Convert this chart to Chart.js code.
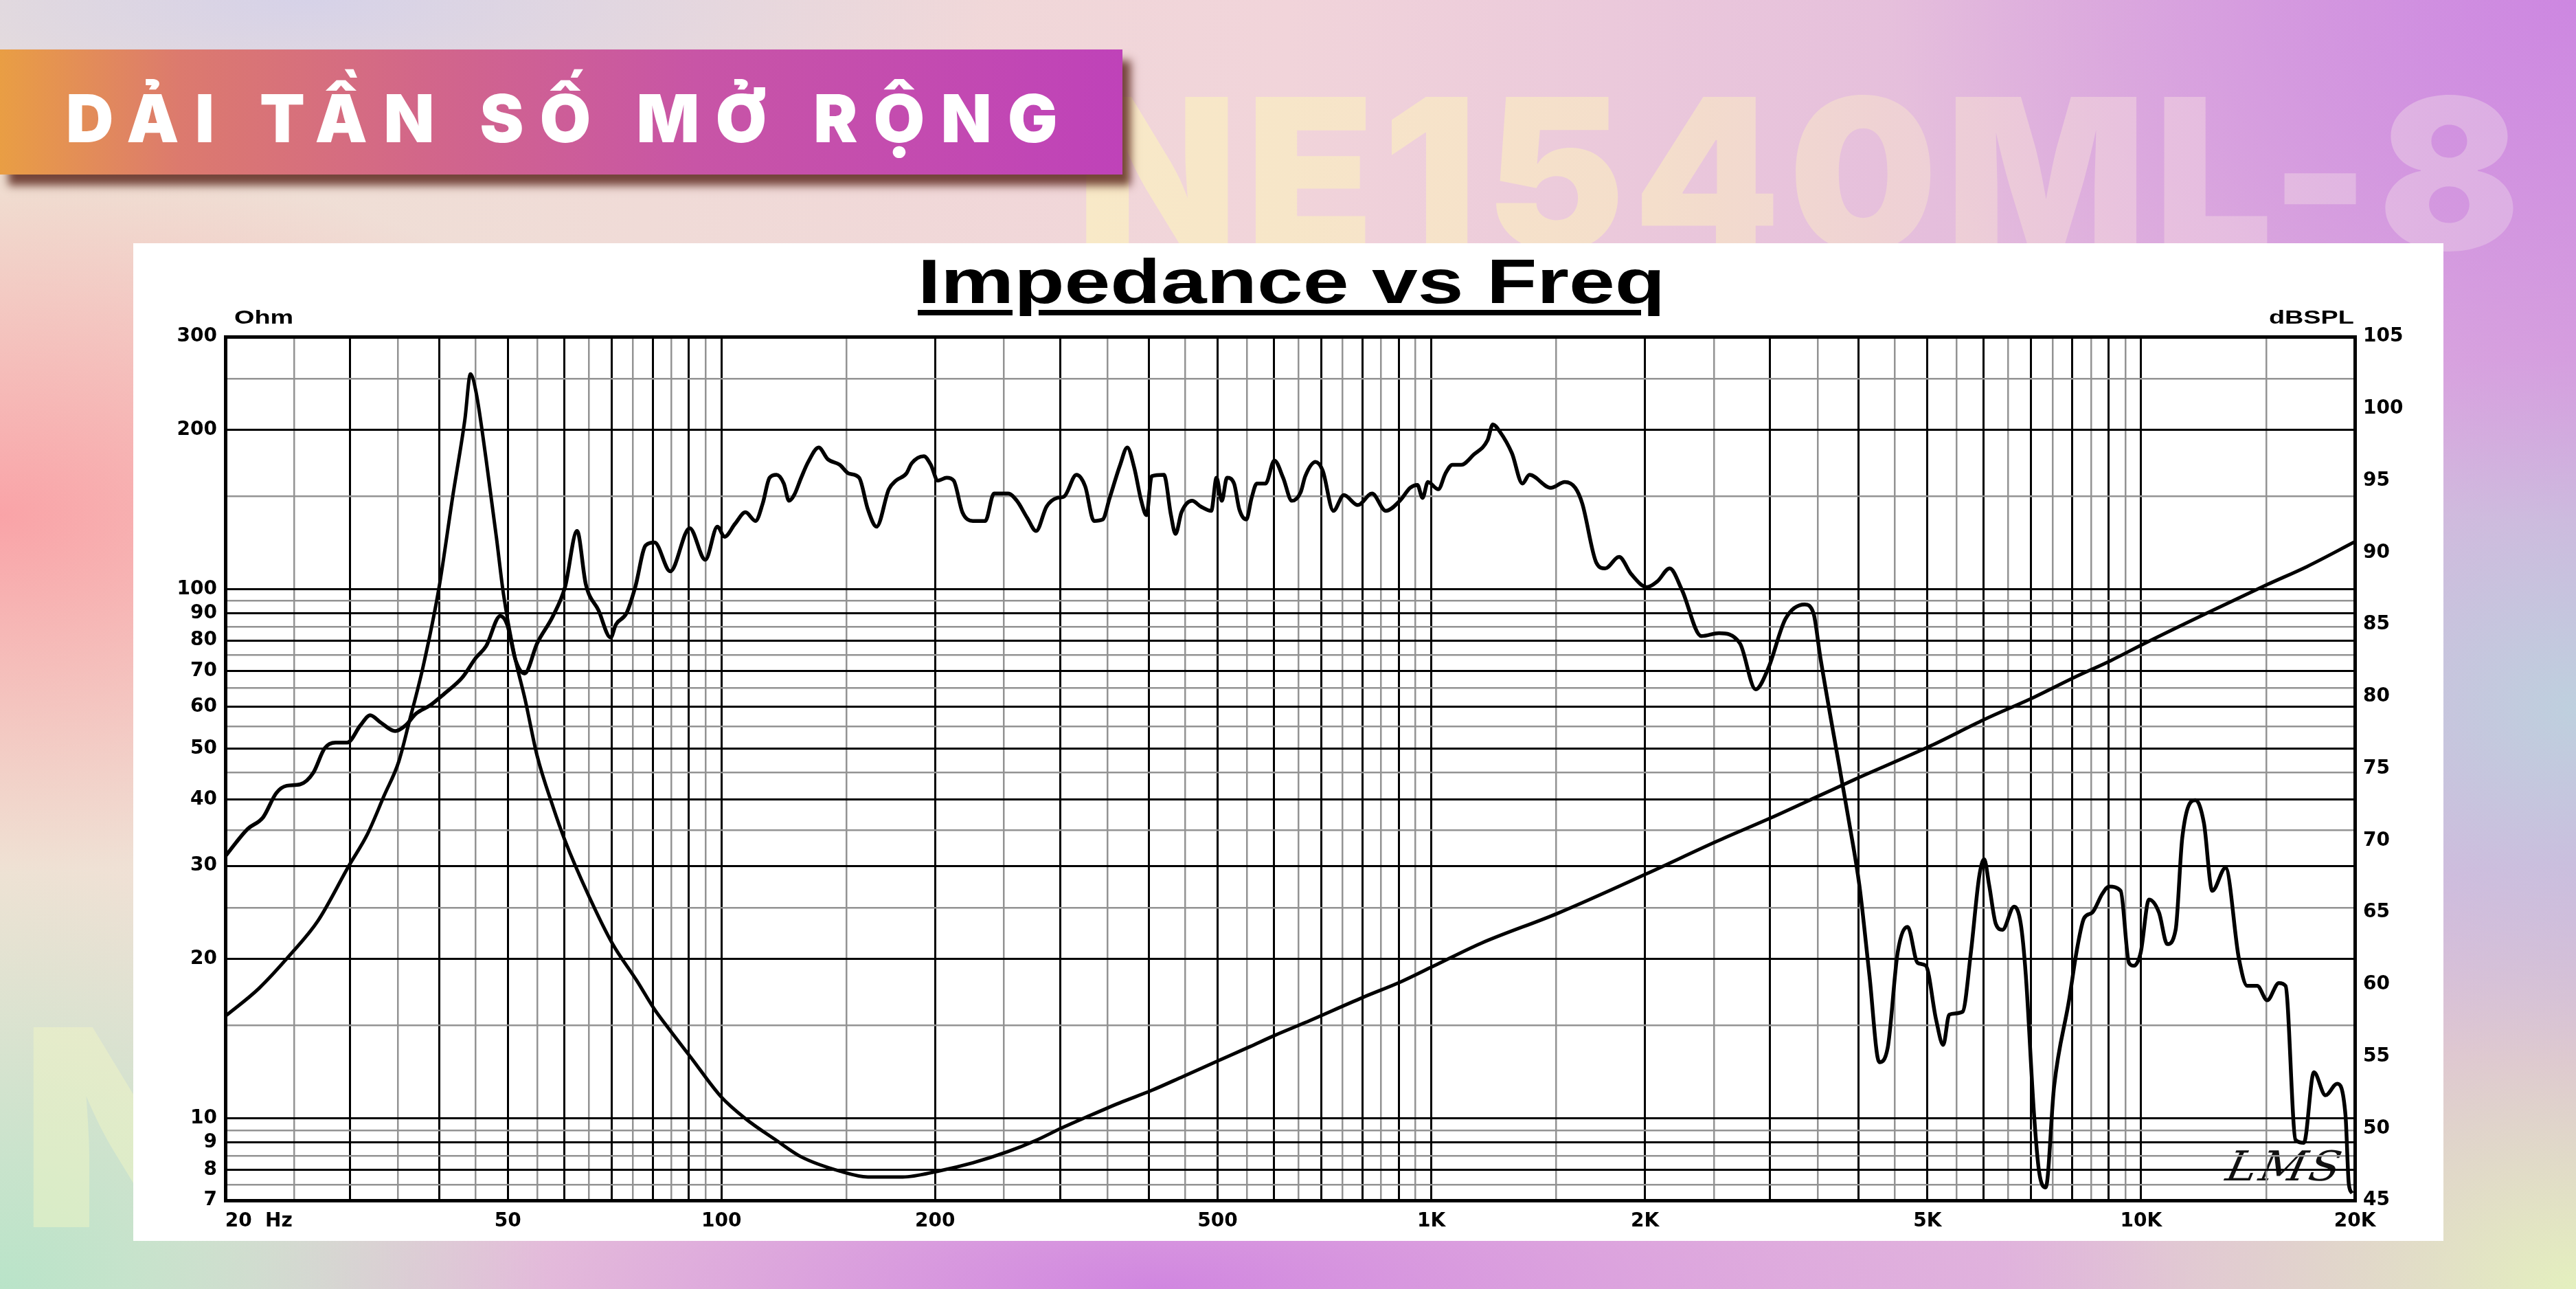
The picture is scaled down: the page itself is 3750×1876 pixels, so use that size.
<!DOCTYPE html>
<html>
<head>
<meta charset="utf-8">
<script src="https://cdn.jsdelivr.net/npm/chart.js@4.4.1/dist/chart.umd.min.js"></script>
<style>
  html, body { margin: 0; padding: 0; }
  body {
    width: 3750px; height: 1876px; overflow: hidden; position: relative;
    background:
      radial-gradient(ellipse 1000px 520px at 0% 40%, rgba(250,160,165,0.95), rgba(250,160,165,0) 100%),
      radial-gradient(ellipse 800px 620px at 0% 100%, rgba(182,228,200,0.95), rgba(182,228,200,0) 100%),
      radial-gradient(ellipse 1500px 420px at 45% 100%, rgba(205,125,225,0.9), rgba(205,125,225,0) 100%),
      radial-gradient(ellipse 1000px 760px at 100% 0%, rgba(205,135,225,1), rgba(205,135,225,0) 100%),
      radial-gradient(ellipse 650px 520px at 100% 55%, rgba(190,208,222,1), rgba(190,208,222,0) 100%),
      radial-gradient(ellipse 850px 620px at 100% 100%, rgba(228,240,190,1), rgba(228,240,190,0) 100%),
      radial-gradient(ellipse 1000px 260px at 12% 0%, rgba(214,210,232,1), rgba(214,210,232,0) 100%),
      linear-gradient(90deg, #efe2d4 0%, #f1d4da 50%, #d9a8de 100%);
  }
  .wm {
    position: absolute; font-family: Inter, "DejaVu Sans", sans-serif; font-weight: 900;
    line-height: 1; white-space: nowrap;
  }
  #wmTop {
    left: 1567px; top: 100px; font-size: 305px; letter-spacing: 12px; opacity: 0.75;
    background: linear-gradient(90deg, #fbf0c2 0%, #f8e6c6 40%, #ecc8e0 75%, #e0b8e6 100%);
    -webkit-background-clip: text; background-clip: text; color: transparent;
  }
  #wmBottom { left: 30px; top: 1440px; font-size: 400px; letter-spacing: 20px; opacity: 0.45; color: #f4f7c4; }
  #banner {
    position: absolute; left: 0; top: 72px; width: 1634px; height: 182px;
    background: linear-gradient(90deg, #e99e44 0%, #dc7a6e 16%, #d2668a 38%, #c855a6 62%, #bf42b9 100%);
    box-shadow: 12px 16px 12px rgba(85,30,20,0.8);
  }
  #banner span {
    position: absolute; left: 96px; top: 52px; color: #fff;
    font-family: Inter, "DejaVu Sans", sans-serif; font-weight: 900; font-size: 96px;
    letter-spacing: 23.5px; line-height: 1; white-space: nowrap;
  }
  #panel {
    position: absolute; left: 194px; top: 354px; width: 3363px; height: 1452px; background: #fff;
  }
  .stretch {
    position: absolute; font-family: "Liberation Sans", Arial, sans-serif; color: #000;
    line-height: 1; white-space: nowrap; transform: scaleX(1.32);
  }
  #title {
    left: 1336px; top: 364px; font-size: 91px; font-weight: bold; transform-origin: 0 0;
    text-decoration: underline; text-decoration-thickness: 8px; text-underline-offset: 10px;
  }
  #ohm { left: 341px; top: 448px; font-size: 28px; font-weight: bold; transform-origin: 0 0; transform: scaleX(1.35); }
  #dbspl { right: 323px; top: 448px; font-size: 28px; font-weight: bold; transform-origin: 100% 0; transform: scaleX(1.35); }
  #sig {
    position: absolute; left: 3250px; top: 1662px; font-family: "DejaVu Serif", serif;
    font-style: italic; font-size: 60px; color: #111; transform: skewX(-12deg) scaleX(1.1);
    letter-spacing: 4px;
  }
  #wrap { position: absolute; left: 0; top: 0; width: 3750px; height: 1876px; }
</style>
</head>
<body>
<div id="wmTop" class="wm">NE1540ML-8</div>
<div id="wmBottom" class="wm">NE1540ML-8</div>
<div id="banner"><span>DẢI TẦN SỐ MỞ RỘNG</span></div>
<div id="panel"></div>
<div id="title" class="stretch">Impedance vs Freq</div>
<div id="ohm" class="stretch">Ohm</div>
<div id="dbspl" class="stretch">dBSPL</div>
<div id="sig">LMS</div>
<div id="wrap"><canvas id="chart"></canvas></div>

<script>
// impedance curve (Ohm, left log axis)
const impFreq = [20, 22.3, 24.7, 27, 29.9, 31.7, 33.5, 35.1, 36.3, 38, 40, 41.8, 43.5, 44.3, 45.1, 46.6,
    48.2, 49.3, 51.1, 52.9, 55, 57.9, 60.2, 64.8, 70.2, 76, 80.4, 84.2, 90.7, 99.8, 108, 119.6, 129.5,
    146.8, 160.8, 180, 202, 226, 253, 277, 302, 329, 364, 404, 447, 501, 555, 601, 664, 801, 908, 1006,
    1173, 1506, 2012, 2527, 3013, 3532, 3950, 5057, 6010, 7067, 8047, 9063, 10097, 12397, 15050, 17140, 20000];
const impOhm = [15.6, 17.6, 20.4, 23.6, 30.1, 34.4, 40.8, 47.2, 56, 71.5, 100.6, 149, 209, 255, 236, 176,
    125, 98, 75, 61.8, 48.4, 38.8, 33.5, 26.6, 21.4, 18.2, 16.1, 14.8, 13, 11, 10, 9.08, 8.46,
    7.95, 7.75, 7.75, 7.95, 8.24, 8.65, 9.08, 9.6, 10.1, 10.7, 11.3, 12, 12.85, 13.66, 14.34, 15.17, 16.93, 18.14, 19.38,
    21.4, 24.4, 29, 33.4, 37, 40.8, 43.7, 50.6, 56.7, 62.5, 68.1, 73.3, 78.9, 90.2, 102, 110.4, 122.9];

// SPL curve (dB, right linear axis)
const splFreq = [20, 21.5, 22.6, 23.6, 24.4, 25.5, 26.6, 27.6, 28.6, 29.7, 31, 32, 33.1, 34.7, 35.9, 37.1,
    38.9, 40.7, 43.1, 45.1, 46.6, 48.8, 49.9, 51.3, 52.8, 55, 57.9, 60.2, 62.6, 64.4, 67.1, 69.8, 71,
    73.5, 75.6, 78.2, 80.5, 84.7, 90.2, 94.9, 98.7, 101, 104.5, 108.1, 111.7, 114.3, 116.9, 119.6, 122.4,
    124.5, 126.6, 129.5, 132.5, 137.1, 141.1, 146.8, 151, 156.3, 160.8, 165.4, 172.1, 176.1, 182.2, 185.3,
    192.8, 197.2, 201.8, 207.6, 212.4, 218.5, 226, 235.3, 242.1, 253.4, 260.7, 269.7, 277.5, 287.1, 297.1,
    303.9, 316.3, 325.4, 334.8, 344.4, 352.3, 364.5, 373, 381.5, 390.3, 397, 403.7, 420.1, 429.8, 436.2,
    444.7, 460.2, 473.5, 489.8, 498.2, 506.8, 515.5, 527.4, 536.5, 548.8, 558.3, 567.9, 584.2, 601.1, 618.4,
    636.2, 654.6, 664.3, 687, 703, 728, 753, 788, 825, 863, 903, 934, 956, 972, 989, 1023, 1047, 1071,
    1102, 1147, 1200, 1221, 1249, 1299, 1344, 1375, 1473, 1542, 1595, 1632, 1708, 1757, 1839, 1913, 2013,
    2082, 2167, 2255, 2401, 2542, 2721, 2864, 2980, 3155, 3357, 3454, 3533, 3783, 3880, 4009, 4141, 4277,
    4395, 4539, 4689, 4843, 4975, 5140, 5263, 5366, 5603, 5756, 5914, 6010, 6108, 6242, 6378, 6623, 6768,
    6878, 7067, 7182, 7339, 7540, 7915, 8132, 8310, 8537, 8818, 9011, 9358, 9614, 9771, 9985, 10259, 10596,
    10886, 11185, 11428, 11933, 12260, 12596, 13151, 13732, 14108, 14573, 15054, 15634, 15976, 16503, 16955,
    17514, 18187, 18886, 19406, 19618, 19834];
const splDb = [68.9, 70.8, 71.6, 73.3, 73.8, 73.9, 74.7, 76.4, 76.8, 76.8, 78, 78.7, 78.2, 77.6, 78, 78.8,
    79.4, 80.2, 81.3, 82.7, 83.5, 85.6, 85, 82.5, 81.6, 83.7, 85.6, 87.6, 91.5, 87.8, 86, 84.1, 85,
    85.8, 87.6, 90.5, 90.7, 88.7, 91.7, 89.5, 91.8, 91.1, 92, 92.8, 92.2, 93.4, 95.2, 95.4, 94.8,
    93.6, 94, 95.2, 96.3, 97.3, 96.5, 96.1, 95.5, 95.2, 93, 91.8, 94.4, 95, 95.5, 96.2,
    96.7, 96.1, 95, 95.2, 95, 92.8, 92.2, 92.2, 94.1, 94.1, 93.6, 92.4, 91.5, 93.2, 93.8,
    93.9, 95.4, 94.6, 92.2, 92.3, 93.8, 96.1, 97.3, 95.9, 93.6, 92.6, 95.3, 95.4, 92.6, 91.3,
    92.8, 93.6, 93.2, 92.9, 95.2, 93.6, 95.2, 94.8, 93, 92.3, 93.8, 94.8, 94.8, 96.4, 95.2,
    93.6, 94.2, 95.3, 96.3, 95.7, 92.9, 94, 93.3, 94.1, 92.9, 93.6, 94.5, 94.7, 93.8, 94.9, 94.4, 95.5, 96.1,
    96.1, 96.8, 97.8, 98.9, 98.4, 96.9, 94.8, 95.4, 94.5, 94.9, 94.5, 93.4, 89.3, 88.9, 89.7, 88.5, 87.6,
    88, 88.9, 87.4, 84.2, 84.4, 83.7, 80.5, 81.9, 85.4, 86.4, 85.8, 82.7, 74.3, 71.2, 66.9, 60.7, 54.6,
    55.6, 62.2, 64, 61.5, 61.3, 57.6, 55.8, 57.9, 58.1, 62.2, 67.5, 68.7, 66.9, 64.2, 63.8, 65.4, 64.2,
    60.7, 50.9, 47, 45.9, 52.9, 58.9, 62.6, 64.6, 65, 66.3, 66.8, 66.5, 61.5, 61.3, 62.2, 65.9, 65,
    62.8, 63.8, 70.2, 72.8, 71.2, 66.5, 68.1, 61.8, 59.9, 59.9, 58.9, 60.1, 59.9, 49.2, 49,
    53.9, 52.3, 53.1, 50.9, 46.1, 45.5];

// grid / tick values
const freqMajor = [20, 30, 40, 50, 60, 70, 80, 90, 100, 200, 300, 400, 500, 600, 700, 800, 900, 1000,
    2000, 3000, 4000, 5000, 6000, 7000, 8000, 9000, 10000, 20000];
const freqMinor = [25, 35, 45, 55, 65, 75, 85, 95, 150, 250, 350, 450, 550, 650, 750, 850, 950, 1500,
    2500, 3500, 4500, 5500, 6500, 7500, 8500, 9500, 15000];
const freqLabelValues = [20, 50, 100, 200, 500, 1000, 2000, 5000, 10000, 20000];
const freqLabelText = ['          20  Hz', '50', '100', '200', '500', '1K', '2K', '5K', '10K', '20K'];

const ohmMajor = [7, 8, 9, 10, 20, 30, 40, 50, 60, 70, 80, 90, 100, 200, 300];
const ohmMinor = [7.5, 8.5, 9.5, 15, 25, 35, 45, 55, 65, 75, 85, 95, 150, 250];

const gridBlack = '#000000';
const gridGray = '#939393';
const tickFont = { family: 'DejaVu Sans', size: 28, weight: 'bold' };

function gridColor(ctx, major) {
    if (!ctx.tick) return gridBlack;
    return major.includes(ctx.tick.value) ? gridBlack : gridGray;
}
function gridWidth(ctx, major, ends) {
    if (!ctx.tick) return 2;
    if (ends.includes(ctx.tick.value)) return 5;
    return major.includes(ctx.tick.value) ? 3 : 2.5;
}

const ctx = document.getElementById('chart').getContext('2d');
new Chart(ctx, {
    type: 'line',
    data: {
        datasets: [
            {
                label: 'Impedance',
                data: impFreq.map((f, i) => ({ x: f, y: impOhm[i] })),
                yAxisID: 'yOhm',
                borderColor: '#000',
                borderWidth: 5,
                pointRadius: 0,
                cubicInterpolationMode: 'monotone',
            },
            {
                label: 'SPL',
                data: splFreq.map((f, i) => ({ x: f, y: splDb[i] })),
                yAxisID: 'ySpl',
                borderColor: '#000',
                borderWidth: 5.5,
                pointRadius: 0,
                cubicInterpolationMode: 'monotone',
            },
        ],
    },
    options: {
        responsive: true,
        maintainAspectRatio: false,
        animation: false,
        devicePixelRatio: 1,
        layout: { padding: { top: 490, left: 0, right: 0, bottom: 0 } },
        plugins: {
            legend: { display: false },
            tooltip: { enabled: false },
            title: { display: false },
        },
        scales: {
            x: {
                type: 'logarithmic',
                position: 'bottom',
                min: 20,
                max: 20000,
                afterBuildTicks: (scale) => {
                    scale.ticks = freqMajor.concat(freqMinor).sort((a, b) => a - b).map(v => ({ value: v }));
                },
                afterFit: (scale) => { scale.height = 129; },
                ticks: {
                    autoSkip: false,
                    maxRotation: 0,
                    minRotation: 0,
                    padding: 14,
                    color: '#000',
                    font: tickFont,
                    callback: (value) => {
                        const i = freqLabelValues.indexOf(value);
                        return i >= 0 ? freqLabelText[i] : '';
                    },
                },
                grid: {
                    drawTicks: false,
                    color: (c) => gridColor(c, freqMajor),
                    lineWidth: (c) => gridWidth(c, freqMajor, [20, 20000]),
                },
                border: { display: true, color: '#000', width: 5 },
            },
            yOhm: {
                type: 'logarithmic',
                position: 'left',
                min: 7,
                max: 300,
                afterBuildTicks: (scale) => {
                    scale.ticks = ohmMajor.concat(ohmMinor).sort((a, b) => a - b).map(v => ({ value: v }));
                },
                afterFit: (scale) => { scale.width = 328; },
                ticks: {
                    autoSkip: false,
                    padding: 12,
                    color: '#000',
                    font: tickFont,
                    callback: (value) => ohmMajor.includes(value) ? String(value) : '',
                },
                grid: {
                    drawTicks: false,
                    color: (c) => gridColor(c, ohmMajor),
                    lineWidth: (c) => gridWidth(c, ohmMajor, [7, 300]),
                },
                border: { display: true, color: '#000', width: 5 },
            },
            ySpl: {
                type: 'linear',
                position: 'right',
                min: 45,
                max: 105,
                afterFit: (scale) => { scale.width = 322; },
                ticks: {
                    stepSize: 5,
                    padding: 12,
                    color: '#000',
                    font: tickFont,
                },
                grid: { drawOnChartArea: false, drawTicks: false },
                border: { display: true, color: '#000', width: 5 },
            },
        },
    },
});
</script>
</body>
</html>
